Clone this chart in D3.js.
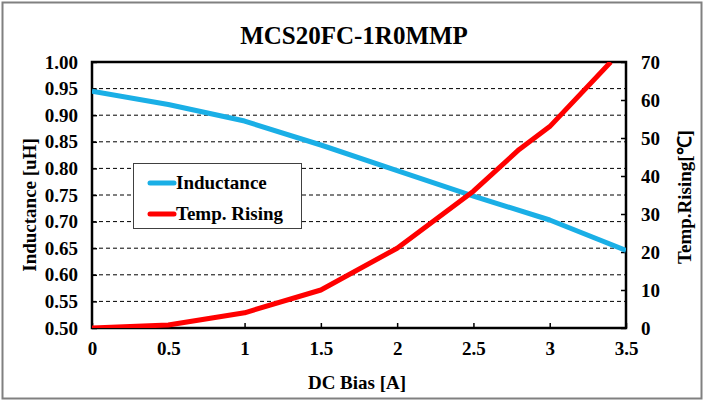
<!DOCTYPE html>
<html><head><meta charset="utf-8">
<script src="https://cdn.jsdelivr.net/npm/d3@7"></script>
<style>html,body{margin:0;padding:0;background:#fff}svg{display:block}</style>
</head><body>
<svg id="c" width="705" height="403"></svg>
<script>
const title = "MCS20FC-1R0MMP";
const xTicks = [0, 0.5, 1, 1.5, 2, 2.5, 3, 3.5];
const xTickLabels = ["0", "0.5", "1", "1.5", "2", "2.5", "3", "3.5"];
const yLeftTicks = [0.50, 0.55, 0.60, 0.65, 0.70, 0.75, 0.80, 0.85, 0.90, 0.95, 1.00];
const yRightTicks = [0, 10, 20, 30, 40, 50, 60, 70];
const indX = [0, 0.5, 1, 1.5, 2, 2.5, 3, 3.5];
const indY = [0.945, 0.920, 0.889, 0.844, 0.796, 0.748, 0.703, 0.646];
const tempX = [0, 0.5, 1, 1.5, 2, 2.5, 2.8, 3, 3.4];
const tempY = [0, 0.8, 4, 10, 21, 36, 47, 53, 70];
const seriesNames = ["Inductance", "Temp. Rising"];

const svg = d3.select("#c");
const font = "'Liberation Serif','Times New Roman',serif";
const FS = 19;
const L = 92, R = 626, T = 62, B = 328;
const x = d3.scaleLinear().domain([0, 3.5]).range([L, R]);
const yL = d3.scaleLinear().domain([0.5, 1.0]).range([B, T]);
const yR = d3.scaleLinear().domain([0, 70]).range([B, T]);

// outer border
svg.append("rect").attr("x", 2.5).attr("y", 2.5).attr("width", 699).attr("height", 396)
  .attr("fill", "none").attr("stroke", "#808080").attr("stroke-width", 2);

// title
svg.append("text").attr("x", 354).attr("y", 44).attr("text-anchor", "middle")
  .attr("font-family", font).attr("font-weight", "bold").attr("font-size", 25).text(title);

// gridlines
svg.append("g").selectAll("line").data(yLeftTicks.filter(d => d > 0.5 && d < 1.0)).join("line")
  .attr("x1", L).attr("x2", R).attr("y1", d => yL(d)).attr("y2", d => yL(d))
  .attr("stroke", "#000").attr("stroke-width", 1).attr("stroke-dasharray", "4,3");

// axes
const axL = d3.axisLeft(yL).tickValues(yLeftTicks).tickFormat(d3.format(".2f")).tickSizeInner(-5).tickSizeOuter(0).tickPadding(14);
const axR = d3.axisRight(yR).tickValues(yRightTicks).tickFormat(d3.format("d")).tickSizeInner(-5).tickSizeOuter(0).tickPadding(15);
const axB = d3.axisBottom(x).tickValues(xTicks).tickFormat((d, i) => xTickLabels[i]).tickSizeInner(-5).tickSizeOuter(0).tickPadding(14);
function style(g) {
  g.select(".domain").remove();
  g.selectAll("line").attr("stroke", "#000").attr("stroke-width", 1.5);
  g.selectAll("text").attr("font-family", font).attr("font-weight", "bold").attr("font-size", FS).attr("fill", "#000");
}
svg.append("g").attr("transform", `translate(${L},0)`).call(axL).call(style);
svg.append("g").attr("transform", `translate(${R},0)`).call(axR).call(style);
svg.append("g").attr("transform", `translate(0,${B})`).call(axB).call(style);

// plot frame
svg.append("rect").attr("x", L).attr("y", T).attr("width", R - L).attr("height", B - T)
  .attr("fill", "none").attr("stroke", "#000").attr("stroke-width", 2.5);

// lines
svg.append("clipPath").attr("id", "clp").append("rect").attr("x", L).attr("y", T).attr("width", R - L).attr("height", B - T);
const lineI = d3.line().x((d, i) => x(indX[i])).y(d => yL(d));
const lineT = d3.line().x((d, i) => x(tempX[i])).y(d => yR(d));
svg.append("path").attr("d", lineI(indY)).attr("fill", "none").attr("stroke", "#1AAFE6")
  .attr("stroke-width", 5).attr("stroke-linejoin", "round").attr("clip-path", "url(#clp)");
svg.append("path").attr("d", lineT(tempY)).attr("fill", "none").attr("stroke", "#FF0000")
  .attr("stroke-width", 5).attr("stroke-linejoin", "round").attr("clip-path", "url(#clp)");

// legend
const lg = svg.append("g");
lg.append("rect").attr("x", 133.5).attr("y", 163.5).attr("width", 168).attr("height", 65)
  .attr("fill", "#fff").attr("stroke", "#404040").attr("stroke-width", 1);
[["#1AAFE6", 183], ["#FF0000", 214]].forEach(([c, yy], i) => {
  lg.append("line").attr("x1", 150).attr("x2", 174).attr("y1", yy).attr("y2", yy)
    .attr("stroke", c).attr("stroke-width", 5).attr("stroke-linecap", "round");
  lg.append("text").attr("x", 176).attr("y", yy + 6).attr("font-family", font)
    .attr("font-weight", "bold").attr("font-size", FS).text(seriesNames[i]);
});

// axis titles
svg.append("text").attr("transform", `translate(36,${(T + B) / 2 + 10}) rotate(-90)`).attr("text-anchor", "middle")
  .attr("font-family", font).attr("font-weight", "bold").attr("font-size", FS).text("Inductance [uH]");
svg.append("text").attr("transform", `translate(691,${(T + B) / 2 + 2}) rotate(-90)`).attr("text-anchor", "middle")
  .attr("font-family", font).attr("font-weight", "bold").attr("font-size", FS).text("Temp.Rising[℃]");
svg.append("text").attr("x", 357).attr("y", 389).attr("text-anchor", "middle")
  .attr("font-family", font).attr("font-weight", "bold").attr("font-size", FS).text("DC Bias [A]");
</script>
</body></html>
